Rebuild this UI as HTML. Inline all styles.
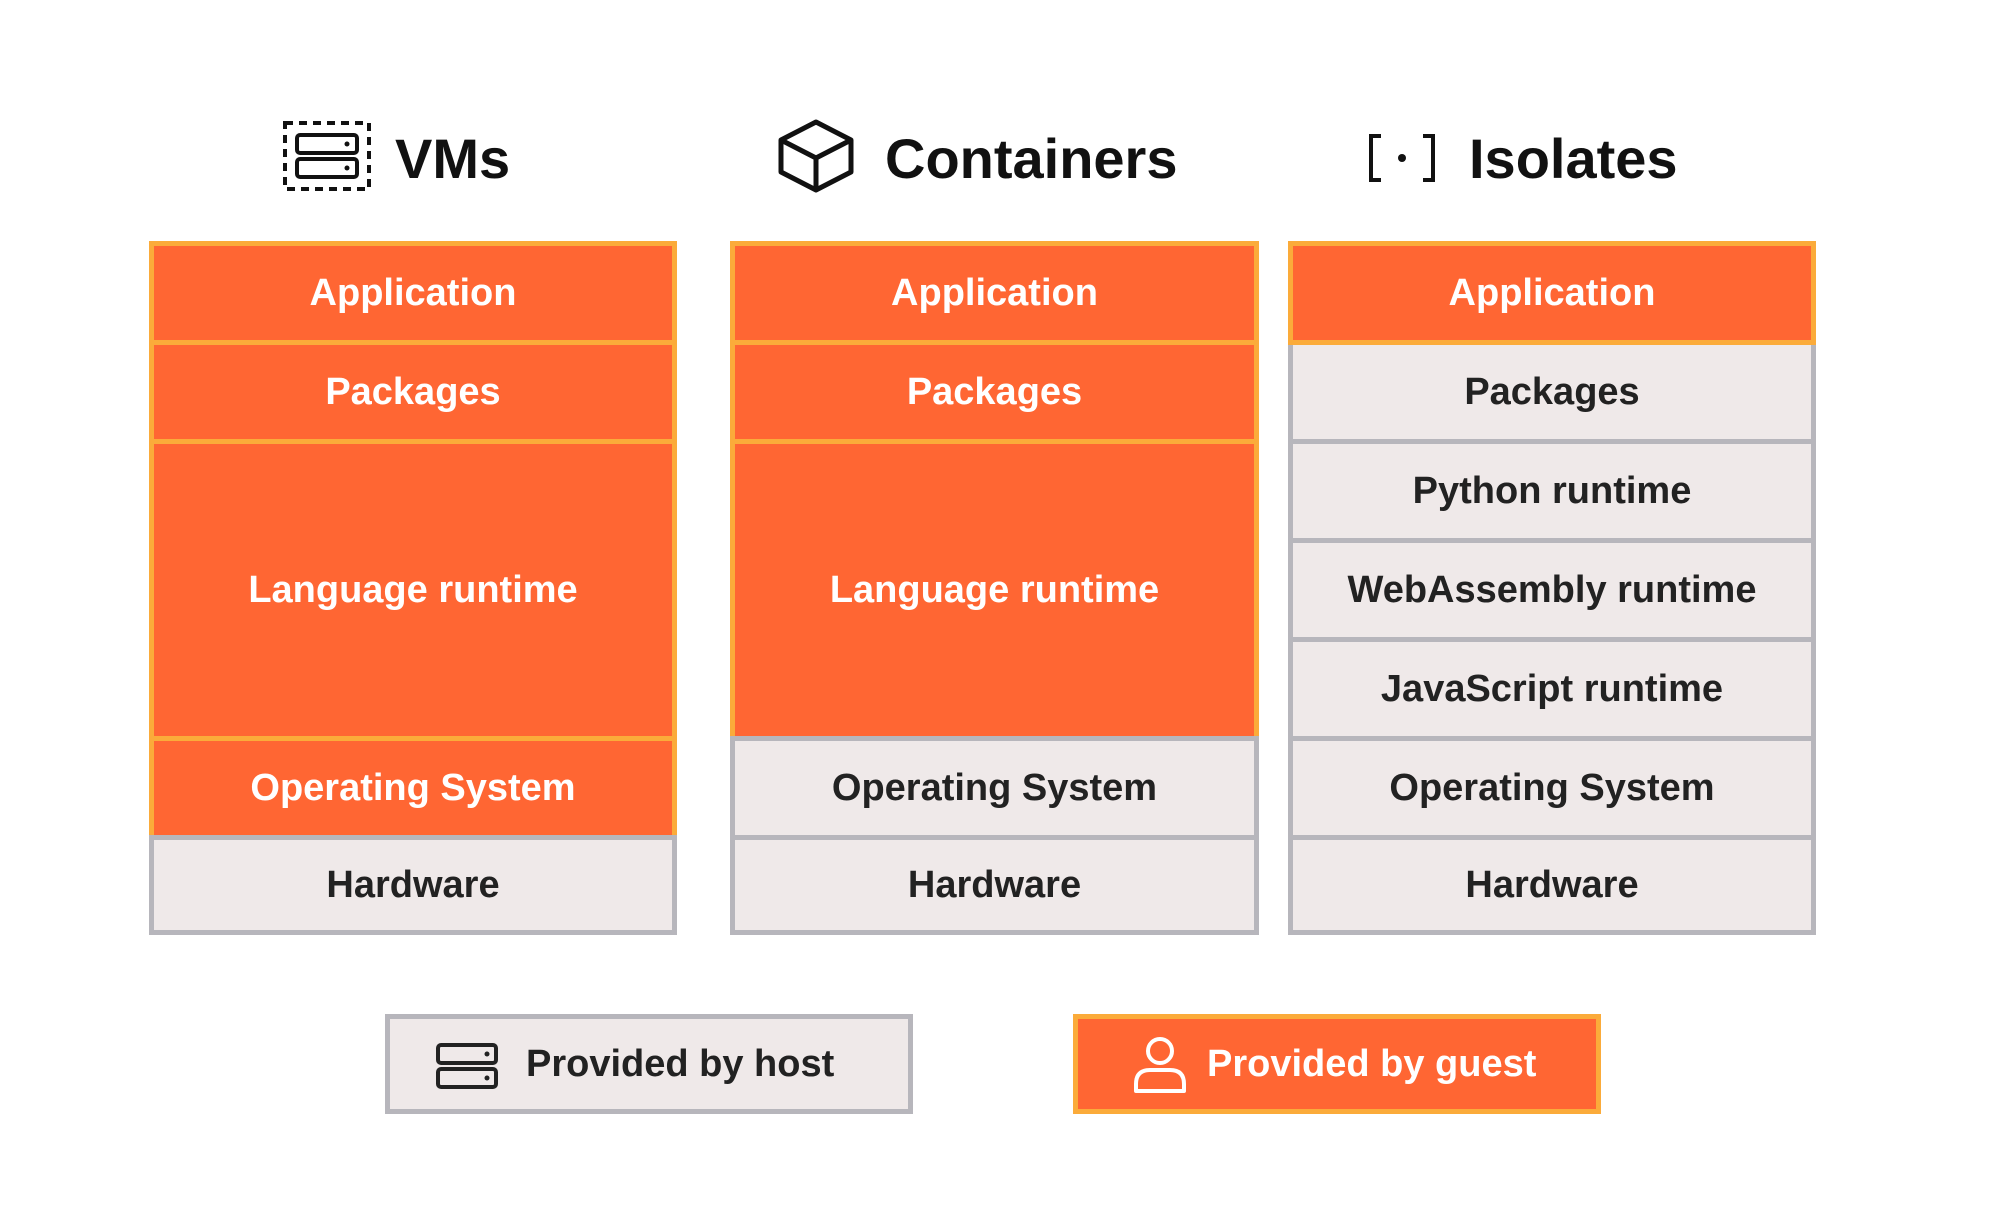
<!DOCTYPE html>
<html><head><meta charset="utf-8"><style>
body{margin:0;width:1999px;height:1228px;background:#fff;position:relative;overflow:hidden;font-family:"Liberation Sans",sans-serif;font-weight:bold}
.c{position:absolute;box-sizing:border-box;display:flex;align-items:center;justify-content:center;font-size:38px}
.o{background:#ff6633;border:5px solid #fbab3a;color:#fff}
.g{background:#efe9e9;border:5px solid #b7b6bc;color:#222}
.h{position:absolute;font-size:56px;color:#111;top:121px;line-height:76px}
svg{position:absolute}
</style></head><body>
<svg style="left:283px;top:121px" width="88" height="70" viewBox="0 0 88 70"><rect x="2" y="2" width="84" height="66" fill="none" stroke="#111" stroke-width="4" stroke-dasharray="8 6"/><rect x="14" y="14" width="60" height="18" rx="3" fill="none" stroke="#111" stroke-width="4"/><rect x="14" y="38" width="60" height="18" rx="3" fill="none" stroke="#111" stroke-width="4"/><circle cx="64" cy="23" r="2.5" fill="#111"/><circle cx="64" cy="47" r="2.5" fill="#111"/></svg>
<div class="h" style="left:395px">VMs</div>
<svg style="left:777px;top:119px" width="78" height="74" viewBox="0 0 78 74"><path d="M39 3 L74 21 L74 53 L39 71 L4 53 L4 21 Z M4 21 L39 39 L74 21 M39 39 L39 71" fill="none" stroke="#111" stroke-width="5" stroke-linejoin="round"/></svg>
<div class="h" style="left:885px">Containers</div>
<svg style="left:1367px;top:133px" width="70" height="50" viewBox="0 0 70 50"><path d="M14 3 H4 V47 H14 M56 3 H66 V47 H56" fill="none" stroke="#111" stroke-width="4"/><circle cx="35" cy="25" r="4" fill="#111"/></svg>
<div class="h" style="left:1469px">Isolates</div>

<div class="c o" style="left:149px;top:241px;width:528px;height:104px">Application</div>
<div class="c o" style="left:149px;top:340px;width:528px;height:104px">Packages</div>
<div class="c o" style="left:149px;top:439px;width:528px;height:302px">Language runtime</div>
<div class="c o" style="left:149px;top:736px;width:528px;height:104px">Operating System</div>
<div class="c g" style="left:149px;top:835px;width:528px;height:100px">Hardware</div>

<div class="c o" style="left:730px;top:241px;width:529px;height:104px">Application</div>
<div class="c o" style="left:730px;top:340px;width:529px;height:104px">Packages</div>
<div class="c o" style="left:730px;top:439px;width:529px;height:302px">Language runtime</div>
<div class="c g" style="left:730px;top:736px;width:529px;height:104px">Operating System</div>
<div class="c g" style="left:730px;top:835px;width:529px;height:100px">Hardware</div>

<div class="c g" style="left:1288px;top:340px;width:528px;height:104px">Packages</div>
<div class="c g" style="left:1288px;top:439px;width:528px;height:104px">Python runtime</div>
<div class="c g" style="left:1288px;top:538px;width:528px;height:104px">WebAssembly runtime</div>
<div class="c g" style="left:1288px;top:637px;width:528px;height:104px">JavaScript runtime</div>
<div class="c g" style="left:1288px;top:736px;width:528px;height:104px">Operating System</div>
<div class="c g" style="left:1288px;top:835px;width:528px;height:100px">Hardware</div>
<div class="c o" style="left:1288px;top:241px;width:528px;height:104px">Application</div>

<div class="c g" style="left:385px;top:1014px;width:528px;height:100px;justify-content:flex-start;padding-left:136px">Provided by host</div>
<svg style="left:435px;top:1042px" width="64" height="48" viewBox="0 0 64 48"><rect x="3" y="3" width="58" height="18" rx="3" fill="none" stroke="#222" stroke-width="4"/><rect x="3" y="27" width="58" height="18" rx="3" fill="none" stroke="#222" stroke-width="4"/><circle cx="52" cy="12" r="2.5" fill="#222"/><circle cx="52" cy="36" r="2.5" fill="#222"/></svg>
<div class="c o" style="left:1073px;top:1014px;width:528px;height:100px;justify-content:flex-start;padding-left:129px">Provided by guest</div>
<svg style="left:1132px;top:1036px" width="56" height="58" viewBox="0 0 56 58"><circle cx="28" cy="15" r="12" fill="none" stroke="#fff" stroke-width="4"/><path d="M4 55 V48 Q4 34 18 34 H38 Q52 34 52 48 V55 Z" fill="none" stroke="#fff" stroke-width="4" stroke-linejoin="round"/></svg>
</body></html>
